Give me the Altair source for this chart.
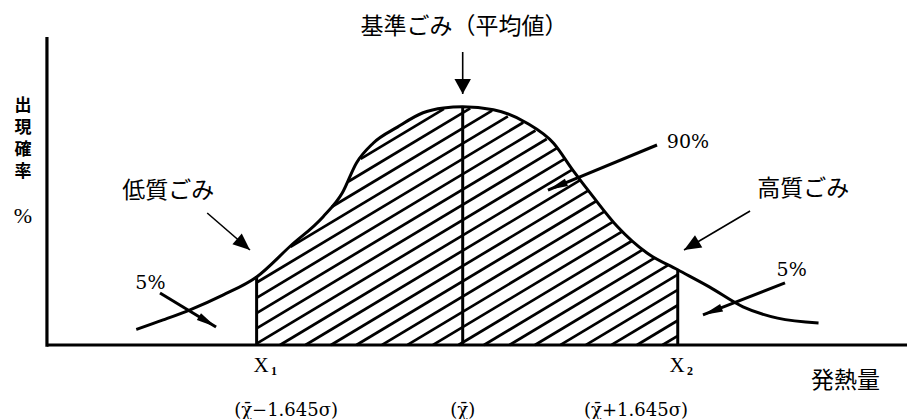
import numpy as np
import pandas as pd
import altair as alt

# ---------------- data (x: heat value in sigma units from the mean, y: appearance probability %) -------------
curve_x = [-2.55, -2.34, -2.13, -1.87, -1.61, -1.35, -1.09, -0.94, -0.83, -0.70, -0.51, -0.31, -0.15, 0.0,
           0.24, 0.50, 0.71, 0.86, 1.02, 1.21, 1.44, 1.68, 1.93, 2.19, 2.46, 2.78]
curve_y = [2.6, 4.2, 5.9, 8.4, 11.4, 16.5, 21.5, 25.5, 30.5, 33.8, 36.5, 38.9, 39.7, 39.9,
           39.4, 37.2, 33.8, 29.3, 24.8, 19.8, 15.4, 12.6, 9.7, 6.4, 4.5, 3.7]

x1_cut, x_mean, x2_cut = -1.61, 0.0, 1.68   # X1, mean, X2

title_labels = ["基準ごみ（平均値）", "低質ごみ", "高質ごみ", "発熱量"]
title_x = [0.01, -2.30, 2.66, 2.99]
title_y = [53.27, 25.80, 26.13, -6.03]

ylab_chars = ["出", "現", "確", "率"]
ylab_y = [40.03, 36.35, 32.66, 28.98]
ylab_x = -3.435
pct_unit_y = 21.61

pct_labels = ["90%", "5%", "5%"]
pct_x = [1.76, -2.44, 2.57]
pct_y = [34.0, 10.39, 12.56]

xl_main = ["X", "X"]
xl_main_x = [-1.576, 1.674]
xl_sub = ["1", "2"]
xl_sub_x = [-1.474, 1.776]
xl_y, xl_sub_y = -3.60, -4.36

bottom_labels = ["(χ̄−1.645σ)", "(χ̄)", "(χ̄+1.645σ)"]
bottom_x = [-1.38, 0.0, 1.354]
bottom_y = -11.06

arrow_kind = ["main", "thin", "thin", "bold", "bold", "bold"]
arrow_x0 = [0.0, -1.996, 2.245, 1.518, -2.365, 2.518]
arrow_y0 = [49.08, 22.11, 22.45, 33.50, 8.71, 10.39]
arrow_x1 = [0.0, -1.662, 1.729, 0.666, -1.927, 1.877]
arrow_y1 = [42.04, 15.91, 15.91, 25.96, 3.02, 5.03]

axis_x = -3.248
yaxis_top = 51.6

# ---------------- scales ----------------
X_DOM = [-3.5523, 3.4711]
Y_DOM = [-12.395, 56.449]
W, H = 899, 411
xs = alt.Scale(domain=X_DOM, nice=False, zero=False)
ys = alt.Scale(domain=Y_DOM, nice=False, zero=False)
px_x = W / (X_DOM[1] - X_DOM[0])
px_y = H / (Y_DOM[1] - Y_DOM[0])


def X(f):
    return alt.X(f, type="quantitative", scale=xs, axis=None)


def Y(f):
    return alt.Y(f, type="quantitative", scale=ys, axis=None)


# ---------------- hatching of the 90 % area ----------------
slope = 0.6 * px_x / px_y
gap = 15.3 / px_y
grid = np.linspace(x1_cut, x2_cut, 4000)
top = np.interp(grid, curve_x, curve_y) - 0.15
segs = []
b_lo = -slope * x2_cut
b_hi = float(np.max(top - slope * grid))
b = b_lo + 0.6 * gap
while b < b_hi:
    v = b + slope * grid
    inside = (v >= 0) & (v <= top)
    idx = np.where(inside)[0]
    if len(idx):
        runs = np.split(idx, np.where(np.diff(idx) > 1)[0] + 1)
        for r in runs:
            if len(r) > 1:
                segs.append(dict(x=grid[r[0]], y=max(v[r[0]], 0), x2=grid[r[-1]], y2=v[r[-1]]))
    b += gap
hatch_df = pd.DataFrame(segs)

hatch = alt.Chart(hatch_df).mark_rule(color="black", strokeWidth=2.7).encode(
    x=X("x"), y=Y("y"), x2="x2", y2="y2")

curve_df = pd.DataFrame({"x": curve_x, "y": curve_y})
curve = alt.Chart(curve_df).mark_line(color="black", strokeWidth=3, interpolate="monotone").encode(
    x=X("x"), y=Y("y"), order="x:Q")

cut_df = pd.DataFrame({
    "x": [x1_cut, x_mean, x2_cut],
    "y": [0, 0, 0],
    "y2": [float(np.interp(x1_cut, curve_x, curve_y)), max(curve_y), float(np.interp(x2_cut, curve_x, curve_y))],
})
cuts = alt.Chart(cut_df).mark_rule(color="black", strokeWidth=3).encode(x=X("x"), y=Y("y"), y2="y2")

axes_df = pd.DataFrame({"x": [axis_x, axis_x], "y": [-0.3, 0], "x2": [axis_x, X_DOM[1]], "y2": [yaxis_top, 0]})
axes = alt.Chart(axes_df).mark_rule(color="black", strokeWidth=3.2).encode(
    x=X("x"), y=Y("y"), x2="x2", y2="y2")

arr = pd.DataFrame({"kind": arrow_kind, "x": arrow_x0, "y": arrow_y0, "x2": arrow_x1, "y2": arrow_y1})
arr["angle"] = (np.degrees(np.arctan2((arr.x2 - arr.x) * px_x, (arr.y2 - arr.y) * px_y)) + 360) % 360
arr["sw"] = np.where(arr.kind == "bold", 3.0, 1.6)

shafts = alt.Chart(arr).mark_rule(color="black").encode(
    x=X("x"), y=Y("y"), x2="x2", y2="y2", strokeWidth=alt.StrokeWidth("sw:Q", scale=None, legend=None))

heads = []
for kind, path, size in [("main", "M0,0L0.55,1L-0.55,1Z", 900),
                         ("thin", "M0,0L0.42,1L-0.42,1Z", 1156),
                         ("bold", "M0,0L0.2,1L-0.2,1Z", 1600)]:
    heads.append(alt.Chart(arr[arr.kind == kind]).mark_point(
        shape=path, filled=True, color="black", size=size, opacity=1, strokeWidth=0).encode(
        x=X("x2"), y=Y("y2"), angle=alt.Angle("angle:Q", scale=None)))


def texts(df, **kw):
    return alt.Chart(df).mark_text(color="black", align="center", baseline="middle", **kw).encode(
        x=X("x"), y=Y("y"), text="t:N")


t_cjk = texts(pd.DataFrame({"t": title_labels, "x": title_x, "y": title_y}),
              font="Noto Sans CJK JP", fontSize=23)
t_ylab = texts(pd.DataFrame({"t": ylab_chars, "x": [ylab_x] * 4, "y": ylab_y}),
               font="Noto Sans CJK JP", fontSize=17, fontWeight="bold")
t_unit = texts(pd.DataFrame({"t": ["%"], "x": [ylab_x], "y": [pct_unit_y]}),
               font="Liberation Serif", fontSize=22)
t_pct = texts(pd.DataFrame({"t": pct_labels, "x": pct_x, "y": pct_y}),
              font="DejaVu Serif", fontSize=19)
t_xm = texts(pd.DataFrame({"t": xl_main, "x": xl_main_x, "y": [xl_y] * 2}),
             font="Liberation Serif", fontSize=21)
t_xs = texts(pd.DataFrame({"t": xl_sub, "x": xl_sub_x, "y": [xl_sub_y] * 2}),
             font="Liberation Serif", fontSize=12, fontWeight="bold")
t_bot = texts(pd.DataFrame({"t": bottom_labels, "x": bottom_x, "y": [bottom_y] * 3}),
              font="DejaVu Serif", fontSize=18)

chart = alt.layer(hatch, curve, cuts, axes, shafts, *heads, t_cjk, t_ylab, t_unit, t_pct, t_xm, t_xs, t_bot).properties(
    width=W, height=H, padding=0, autosize=alt.AutoSizeParams(type="none"), background="white"
).configure_view(stroke=None)

chart.save("out.html", embed_options={"renderer": "svg", "actions": False})
